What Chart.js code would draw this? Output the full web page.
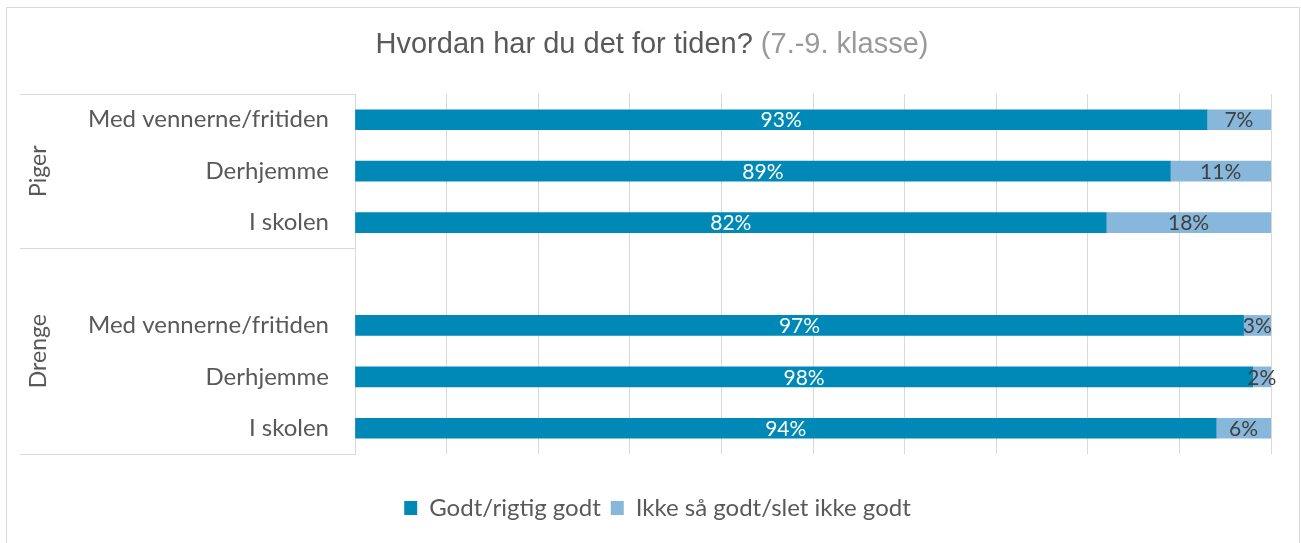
<!DOCTYPE html>
<html>
<head>
<meta charset="utf-8">
<script src="https://cdn.jsdelivr.net/npm/chart.js@4"></script>
<style>
body { margin: 0; background: #fff; }
canvas { display: block; }
</style>
</head>
<body>
<canvas id="chart" width="1301" height="543"></canvas>
<script>
// rows top to bottom, the empty one is the gap between the groups
const categories = ["Med vennerne/fritiden", "Derhjemme", "I skolen", "", "Med vennerne/fritiden", "Derhjemme", "I skolen"];
const groups = ["Piger", "Drenge"];
const groupRows = [[0, 2], [3, 6]];
const seriesNames = ["Godt/rigtig godt", "Ikke så godt/slet ikke godt"];
const godt = [93, 89, 82, null, 97, 98, 94];
const ikkeGodt = [7, 11, 18, null, 3, 2, 6];
const titleMain = "Hvordan har du det for tiden? ";
const titleSub = "(7.-9. klasse)";

const FONT = "Lato, 'Open Sans', sans-serif";
const gridColor = "#d9d9d9";

const decor = {
    id: "decor",
    beforeDraw(chart) {
        const c = chart.ctx;
        c.save();
        c.fillStyle = "#fff";
        c.fillRect(0, 0, chart.width, chart.height);
        c.strokeStyle = gridColor;
        c.lineWidth = 1;
        c.strokeRect(6.5, 7.5, 1293, 600);

        // title in two colours
        c.font = "29px 'Liberation Sans', Arial, sans-serif";
        c.textBaseline = "middle";
        const w1 = c.measureText(titleMain).width;
        const w2 = c.measureText(titleSub).width;
        let x = 652 - (w1 + w2) / 2;
        c.fillStyle = "#595959";
        c.fillText(titleMain, x, 45);
        c.fillStyle = "#999999";
        c.fillText(titleSub, x + w1, 45);
        c.restore();
    },
    afterDraw(chart) {
        const c = chart.ctx;
        const y = chart.scales.y;
        c.save();
        c.strokeStyle = gridColor;
        c.lineWidth = 1;
        const half = (y.getPixelForValue(1) - y.getPixelForValue(0)) / 2;
        const lines = [y.top, y.getPixelForValue(groupRows[1][0]) - half, y.bottom];
        lines.forEach(ly => {
            c.beginPath();
            c.moveTo(20, Math.round(ly) + 0.5);
            c.lineTo(y.right, Math.round(ly) + 0.5);
            c.stroke();
        });

        // group names, rotated
        c.fillStyle = "#595959";
        c.font = "23px " + FONT;
        c.textAlign = "center";
        c.textBaseline = "middle";
        groups.forEach((g, i) => {
            const top = y.getPixelForValue(groupRows[i][0]) - half;
            const bot = y.getPixelForValue(groupRows[i][1]) + half;
            c.save();
            c.translate(39, (top + bot) / 2);
            c.rotate(-Math.PI / 2);
            c.fillText(g, 0, 0);
            c.restore();
        });
        c.restore();
    },
    afterDatasetsDraw(chart) {
        const c = chart.ctx;
        c.save();
        c.font = "21px " + FONT;
        c.textAlign = "center";
        c.textBaseline = "middle";
        chart.data.datasets.forEach((ds, di) => {
            c.fillStyle = di === 0 ? "#ffffff" : "#404040";
            chart.getDatasetMeta(di).data.forEach((bar, i) => {
                const v = ds.data[i];
                if (v == null) return;
                c.fillText(v + "%", (bar.x + bar.base) / 2, bar.y + 1);
            });
        });
        c.restore();
    }
};

new Chart(document.getElementById("chart"), {
    type: "bar",
    data: {
        labels: categories,
        datasets: [
            { label: seriesNames[0], data: godt, backgroundColor: "#0089b7", barThickness: 20 },
            { label: seriesNames[1], data: ikkeGodt, backgroundColor: "#87b7db", barThickness: 20 }
        ]
    },
    options: {
        indexAxis: "y",
        responsive: false,
        animation: false,
        layout: { padding: { top: 94, left: 44, right: 30, bottom: 13 } },
        scales: {
            x: {
                stacked: true,
                min: 0,
                max: 100,
                ticks: { display: false, stepSize: 10 },
                grid: { color: gridColor, drawTicks: false },
                border: { display: false },
                afterFit(s) { s.height = 32; }
            },
            y: {
                stacked: true,
                ticks: { color: "#595959", font: { family: FONT, size: 24 }, padding: 26 },
                grid: { display: false, drawTicks: false },
                border: { color: gridColor },
                afterFit(s) { s.width = 311; }
            }
        },
        plugins: {
            legend: {
                position: "bottom",
                labels: {
                    color: "#595959",
                    font: { family: FONT, size: 24 },
                    boxWidth: 13,
                    boxHeight: 14,
                    padding: 10
                }
            },
            tooltip: { enabled: false }
        }
    },
    plugins: [decor]
});
</script>
</body>
</html>
